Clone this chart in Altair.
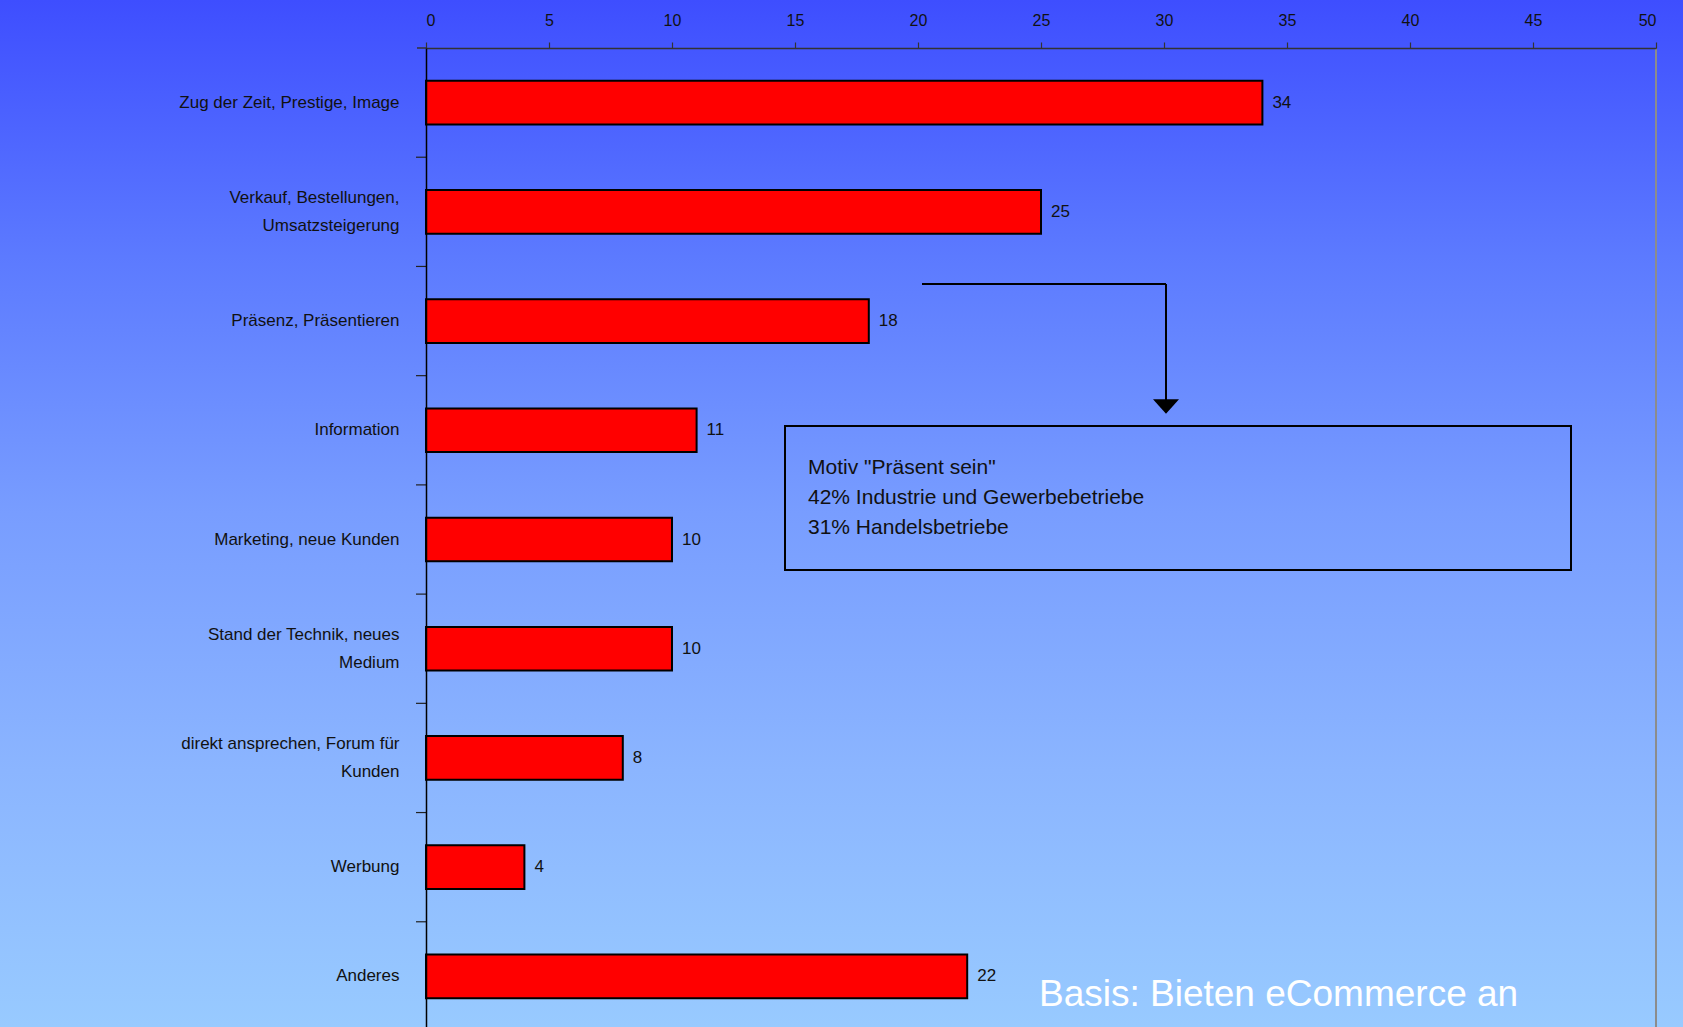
import altair as alt
import pandas as pd

# ---------------- data ----------------
categories = [
    "Zug der Zeit, Prestige, Image",
    "Verkauf, Bestellungen,|Umsatzsteigerung",
    "Präsenz, Präsentieren",
    "Information",
    "Marketing, neue Kunden",
    "Stand der Technik, neues|Medium",
    "direkt ansprechen, Forum für|Kunden",
    "Werbung",
    "Anderes",
]
values = [34, 25, 18, 11, 10, 10, 8, 4, 22]
x_ticks = [0, 5, 10, 15, 20, 25, 30, 35, 40, 45, 50]
box_lines = ['Motiv "Präsent sein"', "42% Industrie und Gewerbebetriebe", "31% Handelsbetriebe"]
basis_text = "Basis: Bieten eCommerce an"

df = pd.DataFrame({"cat": categories, "value": values})
one = pd.DataFrame({"k": [0]})

FONT = "Liberation Sans"
PL, PT = 426, 48
W, H = 1230, 1027 - 48
Y_RANGE = [0, 983]
STEP = Y_RANGE[1] / len(categories)

x_enc = alt.X(
    "value:Q",
    scale=alt.Scale(domain=[0, 50], nice=False),
    axis=alt.Axis(
        orient="top", values=x_ticks, title=None, grid=False,
        labelFontSize=16, labelFont=FONT, labelColor="#111111",
        labelPadding=14, tickSize=6, tickColor="#333333",
        domainColor="#333333", domainWidth=1.5, tickWidth=1.2, zindex=1,
    ),
)
y_scale = alt.Scale(range=Y_RANGE, paddingInner=0.6, paddingOuter=0.3)
y_enc = alt.Y(
    "cat:N", sort=None, scale=y_scale,
    axis=alt.Axis(
        title=None, ticks=False, labelFontSize=17, labelFont=FONT,
        labelColor="#111111", labelPadding=27, labelLineHeight=28,
        labelExpr="split(datum.label, '|')", labelLimit=420,
        labelOffset={"condition": {"test": "indexof(datum.label, '|') >= 0", "value": -14}, "value": 0},
        domainColor="#000000", domainWidth=1.5, zindex=1,
    ),
)

gradient = alt.LinearGradient(
    gradient="linear", x1=0, y1=0, x2=0, y2=1,
    stops=[
        alt.GradientStop(color="#3E4EFF", offset=0),
        alt.GradientStop(color="#5C7AFF", offset=0.25),
        alt.GradientStop(color="#789DFF", offset=0.5),
        alt.GradientStop(color="#8BB5FF", offset=0.75),
        alt.GradientStop(color="#98CAFF", offset=1),
    ],
)

bg = alt.Chart(one).mark_rect(fill=gradient).encode(
    x=alt.value(-PL), x2=alt.value(1683 - PL), y=alt.value(-PT), y2=alt.value(1027 - PT)
)

bars = alt.Chart(df).mark_bar(color="#FF0000", stroke="#000000", strokeWidth=2).encode(
    x=x_enc, y=y_enc
)

labels = alt.Chart(df).mark_text(
    align="left", baseline="middle", dx=10, fontSize=17, font=FONT, color="#111111"
).encode(x="value:Q", y=alt.Y("cat:N", sort=None), text="value:Q")

# category-boundary ticks on the y axis (below each bar's band)
yticks = alt.Chart(df).mark_rule(color="#222222", strokeWidth=1.2, yOffset=0.3 * STEP).encode(
    y=alt.Y("cat:N", sort=None, bandPosition=1), x=alt.value(-10), x2=alt.value(0)
)

xstub = alt.Chart(one).mark_rule(color="#333333", strokeWidth=1.5).encode(
    x=alt.value(-9), x2=alt.value(0), y=alt.value(0)
)

right_edge = alt.Chart(one).mark_rule(color="#8C8C8C", strokeWidth=2).encode(
    x=alt.datum(50), y=alt.value(0), y2=alt.value(Y_RANGE[1])
)

arrow_h = alt.Chart(one).mark_rule(color="#000000", strokeWidth=2).encode(
    x=alt.value(496), x2=alt.value(740), y=alt.value(236)
)
arrow_v = alt.Chart(one).mark_rule(color="#000000", strokeWidth=2).encode(
    x=alt.value(740), y=alt.value(236), y2=alt.value(352)
)
arrow_head = alt.Chart(one).mark_point(
    shape="M-1,-0.55L1,-0.55L0,0.55Z", filled=True, color="#000000", opacity=1, size=676
).encode(x=alt.value(740), y=alt.value(358.5))

box = alt.Chart(one).mark_rect(
    fill="transparent", stroke="#000000", strokeWidth=2
).encode(x=alt.value(359), x2=alt.value(1145), y=alt.value(378), y2=alt.value(522))

box_text = alt.Chart(one).mark_text(
    align="left", baseline="alphabetic", fontSize=21, font=FONT, color="#111111", lineHeight=30
).encode(x=alt.value(382), y=alt.value(426), text=alt.value(box_lines))

basis = alt.Chart(one).mark_text(
    align="left", baseline="alphabetic", fontSize=37, font=FONT, color="#FFFFFF"
).encode(x=alt.value(613), y=alt.value(958), text=alt.value(basis_text))

chart = alt.layer(
    bg, bars, labels, yticks, xstub, right_edge, arrow_h, arrow_v, arrow_head, box, box_text, basis
).properties(
    width=W, height=H,
    autosize=alt.AutoSizeParams(type="none"),
    padding={"left": PL, "top": PT, "right": 1683 - PL - W, "bottom": 0},
    background="#3E4EFF",
).configure_view(stroke=None)

chart.save("out.html", embed_options={"renderer": "svg", "actions": False})
